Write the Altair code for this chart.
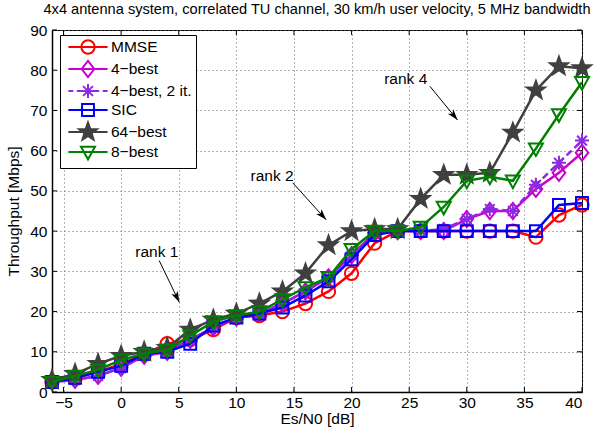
import math
import altair as alt
import pandas as pd

# ---------------- data ----------------
snr = [-6, -4, -2, 0, 2, 4, 6, 8, 10, 12, 14, 16, 18, 20, 22, 24, 26, 28, 30, 32, 34, 36, 38, 40]
mmse = [2.5, 3.5, 5, 7, 9.5, 12, 13, 15.5, 18.5, 19, 20, 22, 25, 29.5, 37, 40, 40, 40, 40, 40, 40, 38.5, 44, 46.5]
best4 = [2.5, 3, 4, 6, 9, 10, 13, 16, 18.5, 19.5, 22, 25, 28.5, 34, 39.5, 40, 40, 40, 43, 45, 45, 50.5, 54.5, 59.5]
best4_2it = [2.5, 3, 4, 6, 9, 10, 13, 16, 18.5, 19.5, 22, 25, 28.5, 34, 39.5, 40, 40, 40.5, 43, 45.5, 45, 51.5, 57, 62.5]
sic = [2.5, 3.5, 5, 6.5, 9.5, 10, 12, 16.5, 18.5, 19.5, 21, 24, 27.5, 33, 39, 40, 40, 40, 40, 40, 40, 40, 46.5, 47]
best64 = [3, 4.5, 7, 9, 10, 11, 15.5, 18, 19.5, 22, 25, 29.5, 36.5, 40, 40.5, 40.5, 48, 54, 54, 54.5, 64.5, 75, 81, 80.5]
best8 = [2.5, 4, 5.5, 8, 9.5, 10.5, 14, 17.5, 19, 20, 23, 26, 28.5, 35.5, 40, 40, 41, 46, 52.5, 53.5, 52.5, 60.5, 69, 77]

series_names = ["MMSE", "4\u2212best", "4\u2212best, 2 it.", "SIC", "64\u2212best", "8\u2212best"]
series_values = [mmse, best4, best4_2it, sic, best64, best8]
series_colors = ["#ff0000", "#cc00cc", "#8a2be2", "#0000ff", "#404040", "#008000"]

x_ticks = [-5, 0, 5, 10, 15, 20, 25, 30, 35, 40]
y_ticks = [0, 10, 20, 30, 40, 50, 60, 70, 80, 90]

ann_text = ["rank 1", "rank 2", "rank 4"]
ann_x = [3.1, 13.1, 24.7]
ann_y = [34.8, 53.7, 77.7]
arr_x1 = [3.3, 14.9, 26.8]
arr_y1 = [32.7, 52.0, 76.0]
arr_x2 = [5.05, 17.8, 29.2]
arr_y2 = [22.3, 42.8, 67.6]

TITLE = "4x4 antenna system, correlated TU channel, 30 km/h user velocity, 5 MHz bandwidth"
FONT = "Liberation Sans"
FS = 15.5
TFS = 14.6

# ---------------- geometry / styles ----------------
W, H = 530, 362
XDOM = [-6, 40]
YDOM = [0, 90]


def star_path(ro, ri):
    pts = []
    for k in range(10):
        r = ro if k % 2 == 0 else ri
        a = math.radians(-90 + 36 * k)
        pts.append(f"{r*math.cos(a):.3f},{r*math.sin(a):.3f}")
    return "M" + "L".join(pts) + "Z"


CIRCLE = "M0.95,0A0.95,0.95,0,1,1,-0.95,0A0.95,0.95,0,1,1,0.95,0Z"
DIAMOND = "M0,-1.15L0.9,0L0,1.15L-0.9,0Z"
ASTER = "M0,-1L0,1M-1,0L1,0M-0.7,-0.7L0.7,0.7M-0.7,0.7L0.7,-0.7"
SQUARE = "M-0.85,-0.85L0.85,-0.85L0.85,0.85L-0.85,0.85Z"
STAR = star_path(1.35, 0.55)
TRIDOWN = "M-1,-0.75L1,-0.75L0,1.05Z"

series_shapes = [CIRCLE, DIAMOND, ASTER, SQUARE, STAR, TRIDOWN]
series_filled = [False, False, False, False, True, False]
series_dash = [None, None, [7, 4], None, None, None]

SOLID = "M-2.8,0L2.8,0"
DASHED = "M-2.8,0L-2.1,0M-1.6,0L-1.0,0M1.0,0L1.6,0M2.1,0L2.8,0"
legend_shapes = [SOLID + s if d is None else DASHED + s
                 for s, d in zip(series_shapes, series_dash)]
legend_fills = [c if f else "transparent" for c, f in zip(series_colors, series_filled)]

rows = []
for name, vals in zip(series_names, series_values):
    for xv, yv in zip(snr, vals):
        rows.append({"series": name, "snr": xv, "tp": yv})
df = pd.DataFrame(rows)

xenc = alt.X("snr:Q", scale=alt.Scale(domain=XDOM, nice=False, zero=False),
             axis=alt.Axis(values=x_ticks, title="Es/N0 [dB]", labelPadding=3, titlePadding=1))
yenc = alt.Y("tp:Q", scale=alt.Scale(domain=YDOM, nice=False, zero=False),
             axis=alt.Axis(values=y_ticks, title="Throughput [Mbps]", labelPadding=5, titlePadding=8))

layers = []
for name, col, shp, fil, dash in zip(series_names, series_colors, series_shapes, series_filled, series_dash):
    base = alt.Chart(df).transform_filter(alt.datum.series == name)
    lkw = dict(color=col, strokeWidth=2.5, clip=False)
    if dash is not None:
        lkw["strokeDash"] = dash
    layers.append(base.mark_line(**lkw).encode(x=xenc, y=yenc))
    pkw = dict(shape=shp, size=196, strokeWidth=2, opacity=1, filled=fil, clip=False)
    if fil:
        pkw["fill"] = col
        pkw["stroke"] = col
    else:
        pkw["stroke"] = col
    layers.append(base.mark_point(**pkw).encode(x=xenc, y=yenc))

# legend (scale-driven)
legend_layer = alt.Chart(df).transform_filter("false").mark_point(
    filled=False, opacity=1, strokeWidth=2
).encode(
    x=xenc, y=yenc,
    color=alt.Color("series:N", scale=alt.Scale(domain=series_names, range=series_colors),
                    legend=alt.Legend(title=None, orient="none", legendX=8, legendY=5,
                                      padding=4, symbolOffset=16, labelOffset=15,
                                      symbolSize=196, symbolStrokeWidth=2,
                                      rowPadding=-2, labelFontSize=FS, labelFont=FONT,
                                      labelColor="black", labelLimit=300,
                                      strokeColor="black", fillColor="white",
                                      cornerRadius=0)),
    shape=alt.Shape("series:N", scale=alt.Scale(domain=series_names, range=legend_shapes)),
    fill=alt.Fill("series:N", scale=alt.Scale(domain=series_names, range=legend_fills)),
)

# inward ticks
xt = pd.DataFrame({"v": x_ticks})
yt = pd.DataFrame({"v": y_ticks})
xv = alt.X("v:Q", scale=alt.Scale(domain=XDOM, nice=False, zero=False))
yv = alt.Y("v:Q", scale=alt.Scale(domain=YDOM, nice=False, zero=False))
tick_layers = [
    alt.Chart(xt).mark_rule(color="black", strokeWidth=1).encode(x=xv, y=alt.value(H), y2=alt.value(H - 5)),
    alt.Chart(xt).mark_rule(color="black", strokeWidth=1).encode(x=xv, y=alt.value(0), y2=alt.value(5)),
    alt.Chart(yt).mark_rule(color="black", strokeWidth=1).encode(y=yv, x=alt.value(0), x2=alt.value(5)),
    alt.Chart(yt).mark_rule(color="black", strokeWidth=1).encode(y=yv, x=alt.value(W - 5), x2=alt.value(W)),
]

# annotations
px_x = W / (XDOM[1] - XDOM[0])
px_y = H / (YDOM[1] - YDOM[0])
angles = []
for a, b, c, d in zip(arr_x1, arr_y1, arr_x2, arr_y2):
    dx = (c - a) * px_x
    dy = -(d - b) * px_y
    angles.append(math.degrees(math.atan2(dx, -dy)) % 360)
ann = pd.DataFrame({"t": ann_text, "tx": ann_x, "ty": ann_y,
                    "x1": arr_x1, "y1": arr_y1, "x2": arr_x2, "y2": arr_y2, "ang": angles})
ax = lambda f: alt.X(f"{f}:Q", scale=alt.Scale(domain=XDOM, nice=False, zero=False))
ay = lambda f: alt.Y(f"{f}:Q", scale=alt.Scale(domain=YDOM, nice=False, zero=False))
text_layer = alt.Chart(ann).mark_text(fontSize=FS, font=FONT, color="black").encode(
    x=ax("tx"), y=ay("ty"), text="t:N")
arrow_lines = alt.Chart(ann).mark_rule(color="black", strokeWidth=1).encode(
    x=ax("x1"), y=ay("y1"), x2="x2:Q", y2="y2:Q")
ARROWHEAD = "M0,0L-0.55,1.7L0,1.25L0.55,1.7Z"
arrow_heads = alt.Chart(ann).mark_point(shape=ARROWHEAD, filled=True, color="black",
                                        size=170, opacity=1).encode(
    x=ax("x2"), y=ay("y2"), angle=alt.Angle("ang:Q", scale=None))

chart = alt.layer(
    *tick_layers, *layers, text_layer, arrow_lines, arrow_heads, legend_layer
).properties(
    width=W, height=H,
    background="white",
    title=alt.TitleParams(text=TITLE, fontSize=TFS, fontWeight="normal", font=FONT,
                          color="black", anchor="middle", offset=6),
    autosize=alt.AutoSizeParams(type="none"),
    padding={"left": 52, "top": 30, "right": 30, "bottom": 42},
).configure_view(
    stroke="black", strokeWidth=1
).configure_axis(
    grid=True, gridColor="#666666", gridDash=[1, 3], gridWidth=1, gridOpacity=1,
    ticks=False, domainColor="black", domainWidth=1.5,
    labelFont=FONT, labelFontSize=FS, labelColor="black",
    titleFont=FONT, titleFontSize=FS, titleFontWeight="normal", titleColor="black",
)

chart.save("out.html", embed_options={"renderer": "svg", "actions": False})
